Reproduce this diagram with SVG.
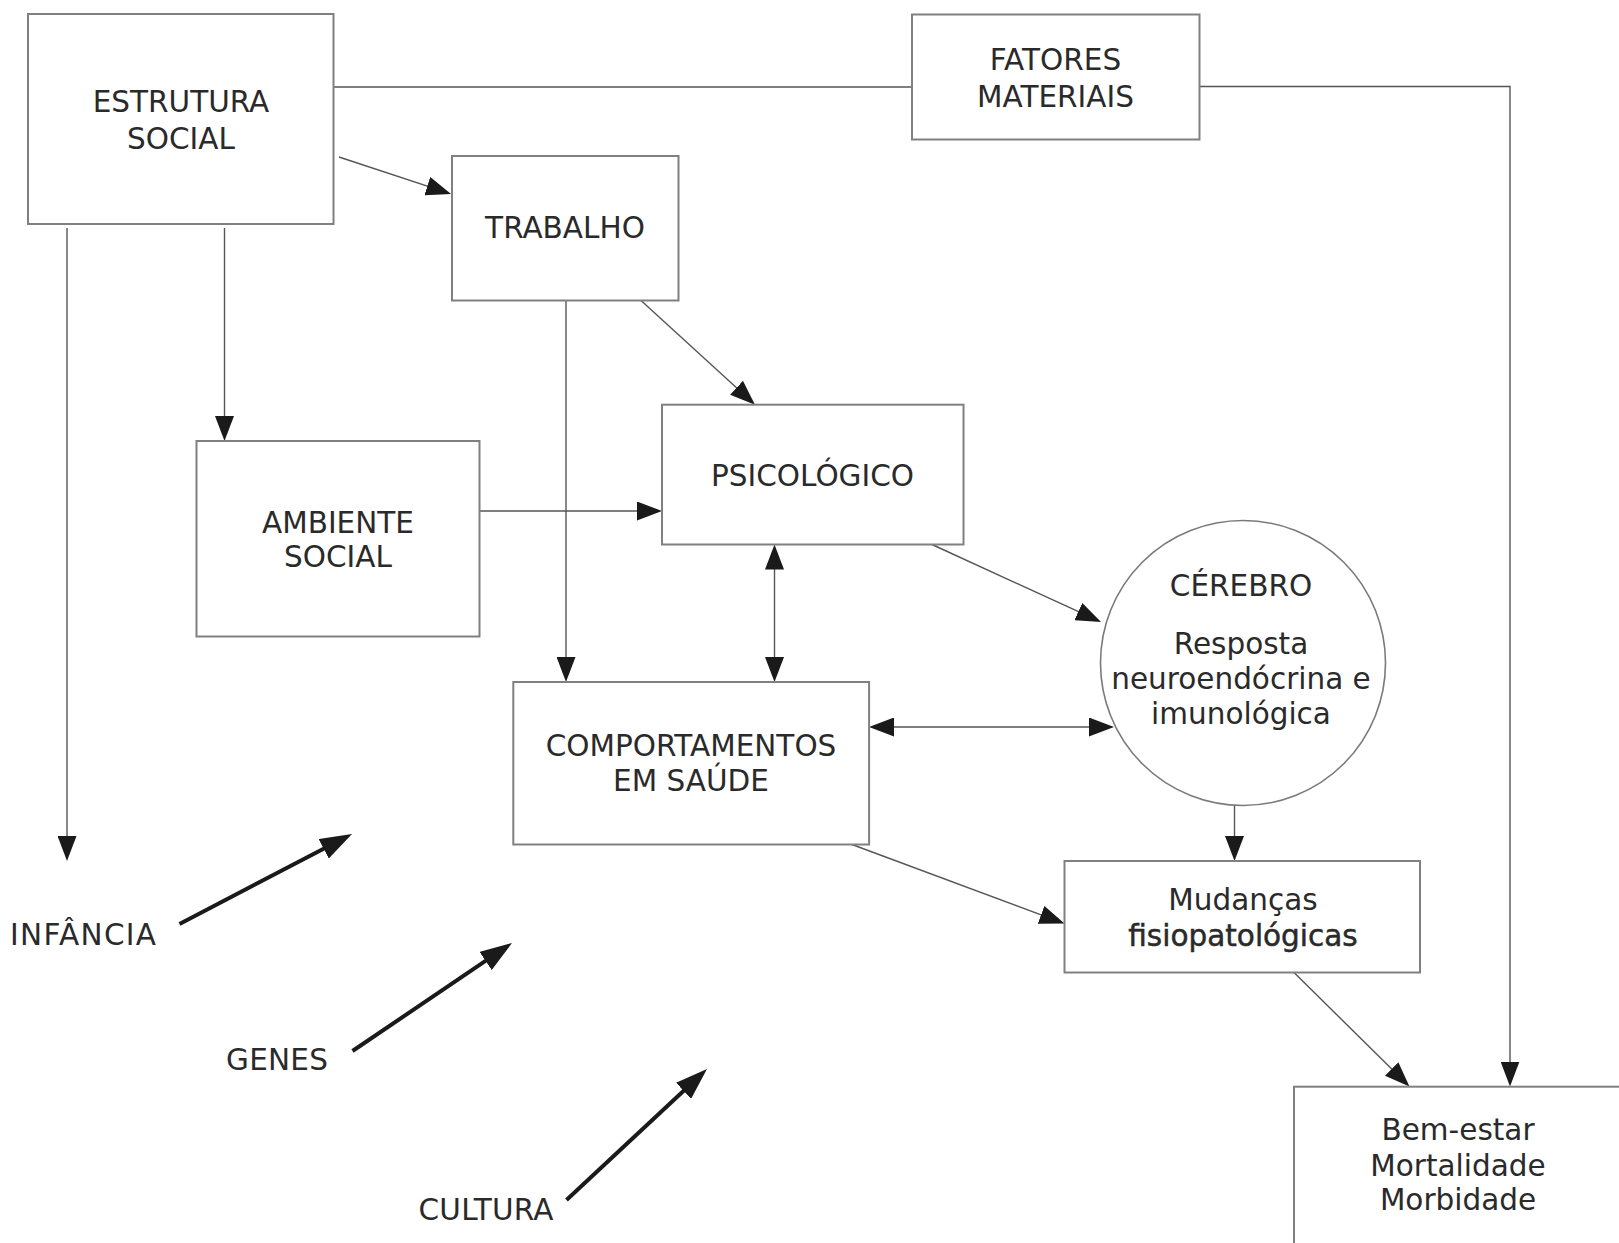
<svg xmlns="http://www.w3.org/2000/svg" width="1619" height="1243" viewBox="0 0 1619 1243">
<style>
.box{fill:#fff;stroke:#808080;stroke-width:2}
.circ{fill:#fff;stroke:#7a7a7a;stroke-width:1.6}
.t{font-family:"DejaVu Sans","Verdana",sans-serif;font-size:29.5px;fill:#2a2a2a;text-anchor:middle}
.tl{font-family:"DejaVu Sans","Verdana",sans-serif;font-size:29.5px;fill:#2a2a2a}
.bold{stroke:#2a2a2a;stroke-width:0.5}
.ln{fill:none;stroke:#555;stroke-width:1.4}
.thick{fill:none;stroke:#1a1a1a;stroke-width:4}
</style>
<defs>
<marker id="ah" markerUnits="userSpaceOnUse" markerWidth="25" markerHeight="19" refX="20" refY="9.5" orient="auto-start-reverse" viewBox="0 0 25 19">
<path d="M0,0 L25,9.5 L0,19 z" fill="#1a1a1a"/>
</marker>
<marker id="ahb" markerUnits="userSpaceOnUse" markerWidth="32" markerHeight="22" refX="20" refY="11" orient="auto" viewBox="0 0 32 22">
<path d="M0,0 L32,11 L0,22 z" fill="#1a1a1a"/>
</marker>
</defs>
<rect width="1619" height="1243" fill="#fff"/>

<g id="connectors">
<line class="ln" x1="333.5" y1="87" x2="912" y2="87"/>
<path class="ln" d="M1199.5,86.5 H1510 V1081.5" marker-end="url(#ah)"/>
<line class="ln" x1="339" y1="157" x2="446.3" y2="192.4" marker-end="url(#ah)"/>
<line class="ln" x1="67" y1="228" x2="67" y2="856" marker-end="url(#ah)"/>
<line class="ln" x1="224.5" y1="228" x2="224.5" y2="436" marker-end="url(#ah)"/>
<line class="ln" x1="566" y1="300.5" x2="566" y2="677" marker-end="url(#ah)"/>
<line class="ln" x1="641" y1="300.5" x2="751.3" y2="401.3" marker-end="url(#ah)"/>
<line class="ln" x1="479.5" y1="511" x2="657" y2="511" marker-end="url(#ah)"/>
<line class="ln" x1="774.5" y1="549.5" x2="774.5" y2="677" marker-start="url(#ah)" marker-end="url(#ah)"/>
<line class="ln" x1="932" y1="544.5" x2="1096.5" y2="619.9" marker-end="url(#ah)"/>
<line class="ln" x1="874" y1="727" x2="1109" y2="727" marker-start="url(#ah)" marker-end="url(#ah)"/>
<line class="ln" x1="1234.5" y1="805.2" x2="1234.5" y2="856" marker-end="url(#ah)"/>
<line class="ln" x1="852" y1="844.5" x2="1059.8" y2="921.8" marker-end="url(#ah)"/>
<line class="ln" x1="1294" y1="972.5" x2="1405.9" y2="1083" marker-end="url(#ah)"/>
<line class="thick" x1="179.5" y1="924" x2="341.4" y2="839.5" marker-end="url(#ahb)"/>
<line class="thick" x1="352.5" y1="1051" x2="502.1" y2="949.7" marker-end="url(#ahb)"/>
<line class="thick" x1="566.5" y1="1200" x2="698.2" y2="1077.2" marker-end="url(#ahb)"/>
</g>

<g id="estrutura-social">
<rect class="box" x="28" y="14" width="305.5" height="210"/>
<text class="t" x="181" y="112">ESTRUTURA</text>
<text class="t" x="181" y="149">SOCIAL</text>
</g>

<g id="fatores-materiais">
<rect class="box" x="912" y="14.5" width="287.5" height="125"/>
<text class="t" x="1055.5" y="69.5">FATORES</text>
<text class="t" x="1055.5" y="106.5">MATERIAIS</text>
</g>

<g id="trabalho">
<rect class="box" x="452" y="156" width="226.5" height="144.5"/>
<text class="t" x="565" y="237.5">TRABALHO</text>
</g>

<g id="ambiente-social">
<rect class="box" x="196.5" y="441" width="283" height="195.5"/>
<text class="t" x="338" y="532.5">AMBIENTE</text>
<text class="t" x="338" y="567">SOCIAL</text>
</g>

<g id="psicologico">
<rect class="box" x="662" y="404.7" width="301.5" height="139.8"/>
<text class="t" x="812.5" y="485.5">PSICOLÓGICO</text>
</g>

<g id="comportamentos">
<rect class="box" x="513.3" y="682" width="355.8" height="162.5"/>
<text class="t" x="691" y="756">COMPORTAMENTOS</text>
<text class="t" x="691" y="791">EM SAÚDE</text>
</g>

<g id="cerebro">
<circle class="circ" cx="1243" cy="663" r="142.5"/>
<text class="t" x="1241" y="595.5">CÉREBRO</text>
<text class="t" x="1241" y="654">Resposta</text>
<text class="t" x="1241" y="689">neuroendócrina e</text>
<text class="t" x="1241" y="723.5">imunológica</text>
</g>

<g id="mudancas">
<rect class="box" x="1064.5" y="861" width="355.5" height="111.5"/>
<text class="t" x="1243" y="910">Mudanças</text>
<text class="t bold" x="1243" y="945.5">fisiopatológicas</text>
</g>

<g id="bem-estar">
<rect class="box" x="1294" y="1086.7" width="400" height="300"/>
<text class="t" x="1458" y="1140">Bem-estar</text>
<text class="t" x="1458" y="1176">Mortalidade</text>
<text class="t" x="1458" y="1210">Morbidade</text>
</g>

<g id="infancia">
<text class="tl" x="10" y="945" textLength="146" lengthAdjust="spacing">INFÂNCIA</text>
</g>
<g id="genes">
<text class="tl" x="226" y="1070" textLength="102" lengthAdjust="spacing">GENES</text>
</g>
<g id="cultura">
<text class="tl" x="418.5" y="1220" textLength="135" lengthAdjust="spacing">CULTURA</text>
</g>
</svg>
